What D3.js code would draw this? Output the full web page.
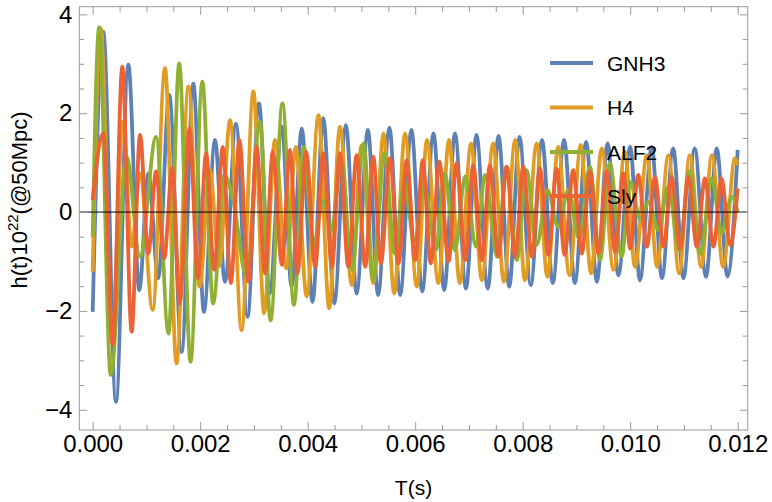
<!DOCTYPE html>
<html>
<head>
<meta charset="utf-8">
<script src="https://cdn.jsdelivr.net/npm/d3@7"></script>
<style>
    body { margin: 0; background: #fff; }
    svg { font-family: "Liberation Sans", Arial, sans-serif; }
</style>
</head>
<body>
<div id="chart"></div>
<script>
// time in ms, strain in units of 1e-22 (extrema)
var gnh3 = [[0,-2.02],[0.197,3.65],[0.433,-3.84],[0.663,2.98],[0.867,-1.58],[1.035,0.78],[1.22,-1.34],[1.425,2.37],
    [1.655,-2.83],[1.872,2.60],[2.07,-2.02],[2.275,1.46],[2.46,-1.41],[2.666,1.79],[2.88,-2.12],[3.094,2.2],
    [3.29,-1.65],[3.52,1.73],[3.70,-1.51],[3.89,1.69],[4.09,-1.82],[4.29,1.90],[4.495,-1.85],[4.71,1.76],
    [4.91,-1.65],[5.12,1.66],[5.31,-1.68],[5.52,1.71],[5.72,-1.68],[5.93,1.66],[6.13,-1.61],[6.34,1.59],
    [6.54,-1.58],[6.74,1.59],[6.945,-1.55],[7.14,1.56],[7.35,-1.55],[7.55,1.54],[7.75,-1.51],[7.94,1.52],
    [8.15,-1.48],[8.36,1.46],[8.56,-1.44],[8.77,1.46],[8.97,-1.44],[9.18,1.42],[9.38,-1.41],[9.58,1.39],
    [9.78,-1.28],[10.0,1.32],[10.18,-1.38],[10.4,1.32],[10.59,-1.34],[10.8,1.29],[10.99,-1.34],[11.2,1.29],
    [11.41,-1.31],[11.61,1.29],[11.81,-1.30],[12.0,1.26]];

var h4 = [[0,-1.21],[0.15,3.72],[0.36,-2.6],[0.56,1.83],[0.726,-0.7],[0.88,0.78],[1.116,-1.98],[1.345,2.91],
    [1.56,-3.06],[1.78,2.54],[1.99,-1.51],[2.18,0.85],[2.355,-1.1],[2.555,1.86],[2.77,-2.39],[2.99,2.44],
    [3.19,-2.05],[3.39,1.46],[3.6,-1.14],[3.78,1.32],[3.98,-1.71],[4.2,1.96],[4.40,-1.95],[4.6,1.73],
    [4.82,-1.48],[5.0,1.35],[5.22,-1.44],[5.41,1.59],[5.61,-1.65],[5.81,1.59],[6.03,-1.51],[6.22,1.46],
    [6.43,-1.44],[6.63,1.46],[6.83,-1.44],[7.04,1.39],[7.24,-1.38],[7.45,1.39],[7.65,-1.41],[7.86,1.46],
    [8.04,-1.38],[8.26,1.39],[8.46,-1.31],[8.66,1.32],[8.87,-1.28],[9.08,1.36],[9.27,-1.24],[9.47,1.29],
    [9.69,-1.17],[9.9,1.22],[10.09,-1.11],[10.31,1.15],[10.5,-1.11],[10.71,1.15],[10.91,-1.24],[11.11,1.15],
    [11.32,-1.11],[11.52,1.15],[11.73,-1.11],[11.95,1.09],[12.0,0.95]];

var alf2 = [[0,-0.5],[0.12,3.74],[0.335,-3.3],[0.63,1.12],[0.88,-0.9],[1.18,1.52],[1.41,-2.46],[1.61,3.01],
    [1.82,-3.03],[2.04,2.64],[2.24,-1.85],[2.45,0.75],[2.62,0.2],[2.86,-1.3],[3.11,1.83],[3.31,-2.19],
    [3.53,2.2],[3.745,-1.88],[3.93,1.32],[4.1,-0.7],[4.29,0.24],[4.44,-0.36],[4.63,1.05],[4.82,-1.17],
    [5.04,1.39],[5.22,-1.38],[5.43,1.19],[5.62,-0.84],[5.8,0.6],[5.98,-0.6],[6.17,0.5],[6.38,-0.77],
    [6.55,0.78],[6.74,-0.77],[6.93,0.72],[7.13,-0.7],[7.3,0.75],[7.52,-0.9],[7.7,0.92],[7.89,-0.97],
    [8.07,0.85],[8.26,-0.67],[8.46,0.45],[8.66,-0.3],[8.85,0.45],[9.05,-0.55],[9.25,0.92],[9.44,-0.97],
    [9.62,0.99],[9.84,-0.9],[10.0,0.61],[10.19,-0.16],[10.34,0.21],[10.52,-0.36],[10.71,0.51],[10.91,-0.77],
    [11.11,0.82],[11.3,-0.84],[11.52,0.68],[11.7,-0.43],[11.89,0.31],[12.0,0.0]];

var sly = [[0,0.24],[0.197,1.59],[0.372,-2.69],[0.551,2.94],[0.725,-2.42],[0.88,1.56],[1.035,-0.84],[1.178,0.82],
    [1.33,-0.94],[1.48,0.9],[1.62,-1.85],[1.8,1.69],[1.96,-1.34],[2.11,1.19],[2.26,-1.17],[2.42,1.32],
    [2.57,-1.44],[2.73,1.46],[2.895,-1.41],[3.05,1.32],[3.205,-1.24],[3.35,1.22],[3.52,-1.07],[3.67,1.26],
    [3.81,-1.24],[3.97,1.22],[4.14,-1.11],[4.29,1.19],[4.45,-1.11],[4.6,1.19],[4.755,-1.11],[4.91,1.15],
    [5.07,-1.11],[5.22,1.12],[5.36,-1.04],[5.53,1.09],[5.69,-1.04],[5.84,1.05],[6.0,-0.97],[6.14,1.05],
    [6.29,-1.04],[6.45,1.02],[6.62,-1.0],[6.77,0.99],[6.93,-0.97],[7.08,0.95],[7.24,-0.97],[7.39,0.95],
    [7.55,-0.9],[7.7,0.92],[7.86,-0.9],[8.01,0.92],[8.17,-0.9],[8.32,0.88],[8.48,-0.87],[8.63,0.88],
    [8.78,-0.87],[8.94,0.85],[9.1,-0.84],[9.25,0.82],[9.41,-0.84],[9.56,0.82],[9.72,-0.8],[9.87,0.78],
    [10.0,-0.74],[10.15,0.75],[10.31,-0.70],[10.46,0.71],[10.62,-0.70],[10.77,0.71],[10.93,-0.74],[11.08,0.71],
    [11.24,-0.70],[11.39,0.68],[11.55,-0.70],[11.7,0.68],[11.86,-0.67],[12.0,0.48]];

var seriesNames = ["GNH3", "H4", "ALF2", "Sly"];
var seriesColors = ["#5e81b5", "#e19c24", "#8fb032", "#eb6235"];
var xMajor = [0, 2, 4, 6, 8, 10, 12];
var yMajor = [-4, -2, 0, 2, 4];

var WIDTH = 772, HEIGHT = 502;
var frame = {left: 79.3, right: 747.7, top: 6.7, bottom: 430};

var svg = d3.select("#chart").append("svg")
    .attr("width", WIDTH)
    .attr("height", HEIGHT);

var x = d3.scaleLinear().domain([-0.249, 12.186]).range([frame.left, frame.right]);
var y = d3.scaleLinear().domain([-4.41, 4.155]).range([frame.bottom, frame.top]);

var xMinor = d3.range(0, 12.001, 0.5).filter(function (d) { return xMajor.indexOf(d) < 0; });
var yMinor = d3.range(-4, 4.001, 0.5).filter(function (d) { return yMajor.indexOf(d) < 0; });

svg.append("clipPath").attr("id", "plot-clip")
    .append("rect")
    .attr("x", frame.left).attr("y", frame.top)
    .attr("width", frame.right - frame.left)
    .attr("height", frame.bottom - frame.top);

var line = d3.line()
    .x(function (d) { return x(d[0]); })
    .y(function (d) { return y(d[1]); })
    .curve(d3.curveMonotoneX);

var plot = svg.append("g").attr("clip-path", "url(#plot-clip)");
[gnh3, h4, alf2, sly].forEach(function (data, i) {
    plot.append("path")
        .datum(data)
        .attr("fill", "none")
        .attr("stroke", seriesColors[i])
        .attr("stroke-width", 3.8)
        .attr("stroke-linejoin", "round")
        .attr("d", line);
});

// axis line at zero, over the curves
svg.append("line")
    .attr("x1", frame.left).attr("x2", frame.right)
    .attr("y1", y(0)).attr("y2", y(0))
    .attr("stroke", "#000").attr("stroke-width", 1);

// frame with ticks on all four sides
function frameAxis(axis, values, size, pos, labels) {
    var g = svg.append("g")
        .attr("transform", pos)
        .call(axis.tickValues(values).tickSizeInner(-size).tickSizeOuter(0));
    g.select(".domain").remove();
    g.selectAll(".tick line").attr("stroke", "#999");
    if (!labels) g.selectAll(".tick text").remove();
    return g;
}

var bottom = frameAxis(d3.axisBottom(x).tickPadding(5).tickFormat(function (d) { return (d / 1000).toFixed(3); }),
    xMajor, 8, "translate(0," + frame.bottom + ")", true);
frameAxis(d3.axisBottom(x), xMinor, 5, "translate(0," + frame.bottom + ")", false);
frameAxis(d3.axisTop(x), xMajor, 8, "translate(0," + frame.top + ")", false);
frameAxis(d3.axisTop(x), xMinor, 5, "translate(0," + frame.top + ")", false);

var left = frameAxis(d3.axisLeft(y).tickPadding(7).tickFormat(d3.format("d")),
    yMajor, 8, "translate(" + frame.left + ",0)", true);
frameAxis(d3.axisLeft(y), yMinor, 5, "translate(" + frame.left + ",0)", false);
frameAxis(d3.axisRight(y), yMajor, 8, "translate(" + frame.right + ",0)", false);
frameAxis(d3.axisRight(y), yMinor, 5, "translate(" + frame.right + ",0)", false);

[bottom, left].forEach(function (g) {
    g.selectAll(".tick text")
        .attr("fill", "#000")
        .style("font-size", "24px")
        .style("font-family", "'Liberation Sans', Arial, sans-serif");
});

svg.append("rect")
    .attr("x", frame.left).attr("y", frame.top)
    .attr("width", frame.right - frame.left)
    .attr("height", frame.bottom - frame.top)
    .attr("fill", "none")
    .attr("stroke", "#999")
    .attr("stroke-width", 1);

// axis labels
svg.append("text")
    .attr("x", (frame.left + frame.right) / 2)
    .attr("y", 495)
    .attr("text-anchor", "middle")
    .style("font-size", "21px")
    .text("T(s)");

var ylab = svg.append("text")
    .attr("transform", "translate(27,200) rotate(-90)")
    .attr("text-anchor", "middle")
    .style("font-size", "22px");
ylab.append("tspan").text("h(t)10");
ylab.append("tspan").attr("dy", -9).style("font-size", "15px").text("22");
ylab.append("tspan").attr("dy", 9).text("(@50Mpc)");

// legend, drawn over the curves
var legend = svg.append("g");
var legendY = [63, 107.5, 152, 196];
seriesNames.forEach(function (name, i) {
    legend.append("line")
        .attr("x1", 550).attr("x2", 593)
        .attr("y1", legendY[i]).attr("y2", legendY[i])
        .attr("stroke", seriesColors[i])
        .attr("stroke-width", 3.8);
    legend.append("text")
        .attr("x", 607)
        .attr("y", legendY[i])
        .attr("dy", "0.36em")
        .style("font-size", "21px")
        .text(name);
});
</script>
</body>
</html>
